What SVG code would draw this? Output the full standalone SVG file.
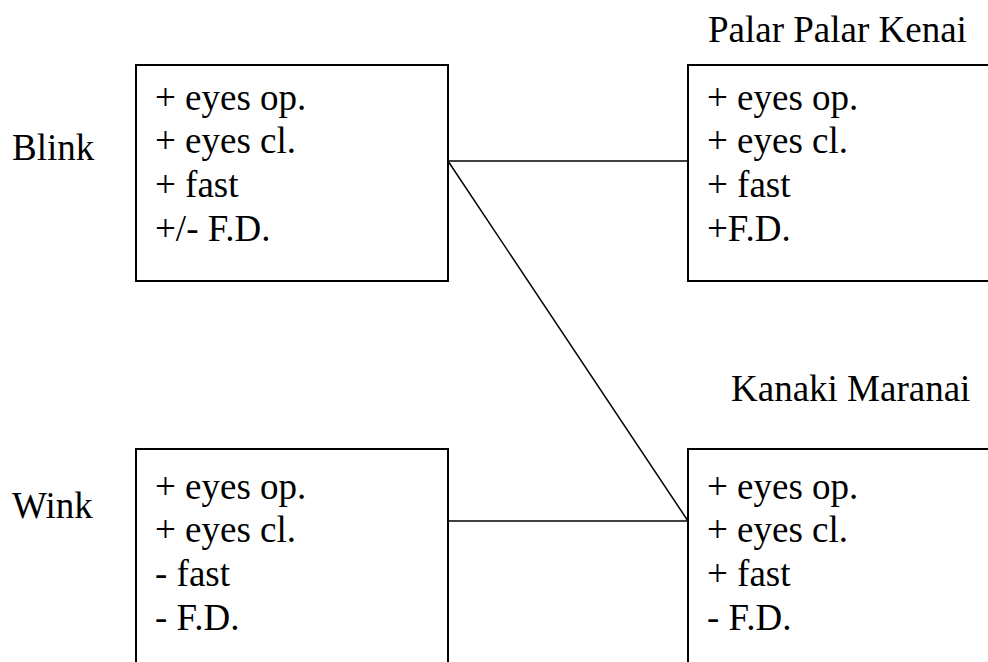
<svg xmlns="http://www.w3.org/2000/svg" width="988" height="662" viewBox="0 0 988 662">
  <style>
    text { font-family: "Liberation Serif", "Times New Roman", serif; font-size: 37px; fill: #000; }
    .box { fill: #fff; stroke: #000; stroke-width: 2; }
    .link { stroke: #000; stroke-width: 1.5; fill: none; }
  </style>
  <rect width="988" height="662" fill="#fff"/>

  <!-- row labels -->
  <text id="label-blink" x="12" y="160">Blink</text>
  <text id="label-wink" x="12" y="518">Wink</text>

  <!-- column headings -->
  <text id="label-palar" x="708" y="42">Palar Palar Kenai</text>
  <text id="label-kanaki" x="731" y="401">Kanaki Maranai</text>

  <!-- connectors -->
  <g id="connectors">
    <line class="link" x1="448" y1="161" x2="688" y2="161"/>
    <line class="link" x1="448" y1="161" x2="688" y2="521"/>
    <line class="link" x1="448" y1="521" x2="688" y2="521"/>
  </g>

  <g id="node-blink">
    <rect class="box" x="136" y="65" width="312" height="216"/>
    <text x="155" y="110">+ eyes op.</text>
    <text x="155" y="153">+ eyes cl.</text>
    <text x="155" y="197">+ fast</text>
    <text x="155" y="241">+/- F.D.</text>
  </g>

  <g id="node-palar">
    <rect class="box" x="688" y="65" width="320" height="216"/>
    <text x="707" y="110">+ eyes op.</text>
    <text x="707" y="153">+ eyes cl.</text>
    <text x="707" y="197">+ fast</text>
    <text x="707" y="241">+F.D.</text>
  </g>

  <g id="node-wink">
    <rect class="box" x="136" y="449" width="312" height="240"/>
    <text x="155" y="499">+ eyes op.</text>
    <text x="155" y="542">+ eyes cl.</text>
    <text x="155" y="586">- fast</text>
    <text x="155" y="630">- F.D.</text>
  </g>

  <g id="node-kanaki">
    <rect class="box" x="688" y="449" width="320" height="240"/>
    <text x="707" y="499">+ eyes op.</text>
    <text x="707" y="542">+ eyes cl.</text>
    <text x="707" y="586">+ fast</text>
    <text x="707" y="630">- F.D.</text>
  </g>
</svg>
